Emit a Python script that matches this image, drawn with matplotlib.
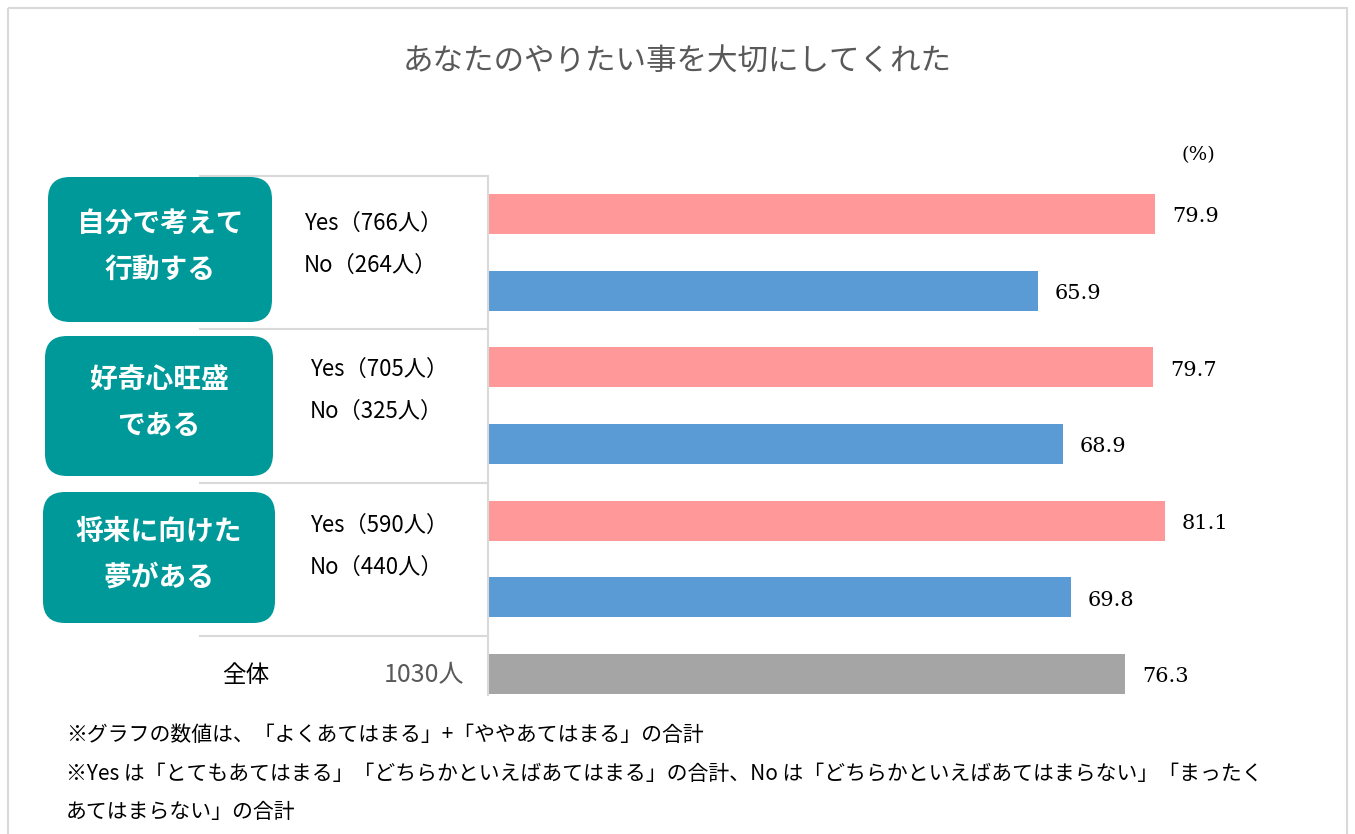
import numpy as np
import matplotlib.pyplot as plt
from matplotlib.patches import FancyBboxPatch, Rectangle

plt.rcParams['font.family'] = ['Noto Sans CJK JP', 'DejaVu Sans']

# data
groups = ['自分で考えて\n行動する', '好奇心旺盛\nである', '将来に向けた\n夢がある']
yes_n = [766, 705, 590]
no_n = [264, 325, 440]
yes_vals = [79.9, 79.7, 81.1]
no_vals = [65.9, 68.9, 69.8]
total_n = 1030
total_val = 76.3
title = 'あなたのやりたい事を大切にしてくれた'
notes = ['※グラフの数値は、「よくあてはまる」+「ややあてはまる」の合計',
         '※Yes は「とてもあてはまる」「どちらかといえばあてはまる」の合計、No は「どちらかといえばあてはまらない」「まったく',
         'あてはまらない」の合計']

W, H = 1355, 834
fig = plt.figure(figsize=(W/100, H/100), dpi=100)

# overlay axes in pixel units for table / boxes / text
ov = fig.add_axes([0, 0, 1, 1])
ov.set_xlim(0, W)
ov.set_ylim(H, 0)
ov.axis('off')

# main bar axes
top_px, bot_px = 176, 695
left_px, right_px = 488, 1323
ax = fig.add_axes([left_px/W, 1-bot_px/H, (right_px-left_px)/W, (bot_px-top_px)/H])
vals = []
cols = []
for y, n in zip(yes_vals, no_vals):
    vals += [y, n]
    cols += ['#FF9999', '#5B9BD5']
vals.append(total_val)
cols.append('#A5A5A5')
pos = np.arange(len(vals))
bars = ax.barh(pos, vals, height=0.52, color=cols)
for b, v in zip(bars, vals):
    ax.annotate(f'{v:.1f}', (v, b.get_y() + b.get_height()/2), xytext=(12, -2),
                textcoords='offset points', ha='left', va='center',
                fontsize=15, family='DejaVu Serif', color='#000000')
ax.set_xlim(0, 100)
spacing = 76.67
ax.set_ylim((bot_px-214)/spacing, (top_px-214)/spacing)
for s in ['top', 'right', 'bottom']:
    ax.spines[s].set_visible(False)
ax.spines['left'].set_color('#D9D9D9')
ax.spines['left'].set_linewidth(1.5)
ax.set_xticks([])
ax.set_yticks([])
ax.patch.set_alpha(0)

# outer frame
ov.add_patch(Rectangle((8, 8), 1339, 900, fill=False, ec='#D9D9D9', lw=1.5))

ov.text(677, 62, title, ha='center', va='center', fontsize=22, color='#595959')
ov.text(1198, 155, '(%)', ha='center', va='center', fontsize=14, family='DejaVu Serif')

# table lines
for yl in [176, 329, 483, 636]:
    ov.plot([200, 488], [yl, yl], color='#D9D9D9', lw=1.5)

boxes = [(48, 177, 224, 145), (45, 336, 228, 140), (43, 492, 232, 131)]
yes_xy = [(304, 223), (310, 369), (310, 525)]
for g, (bx, by, bw, bh), (tx, ty), yn, nn in zip(groups, boxes, yes_xy, yes_n, no_n):
    ov.add_patch(FancyBboxPatch((bx, by), bw, bh, boxstyle='round,pad=0,rounding_size=22',
                                fc='#009999', ec='none', zorder=3))
    ov.text(bx + bw/2, by + bh/2 - 3, g, ha='center', va='center', color='white',
            fontsize=20, fontweight='bold', linespacing=1.8, zorder=4)
    ov.text(tx, ty, f'Yes（{yn}人）', ha='left', va='center', fontsize=16, color='#000000')
    ov.text(tx, ty + 42, f'No（{nn}人）', ha='left', va='center', fontsize=16, color='#000000')

ov.text(222, 675, '全体', ha='left', va='center', fontsize=17, color='#000000')
ov.text(464, 675, f'{total_n}人', ha='right', va='center', fontsize=18, color='#595959')

for i, t in enumerate(notes):
    ov.text(66, 735 + i*38.5, t, ha='left', va='center', fontsize=15, color='#000000')

plt.savefig('out.png', dpi=100)
